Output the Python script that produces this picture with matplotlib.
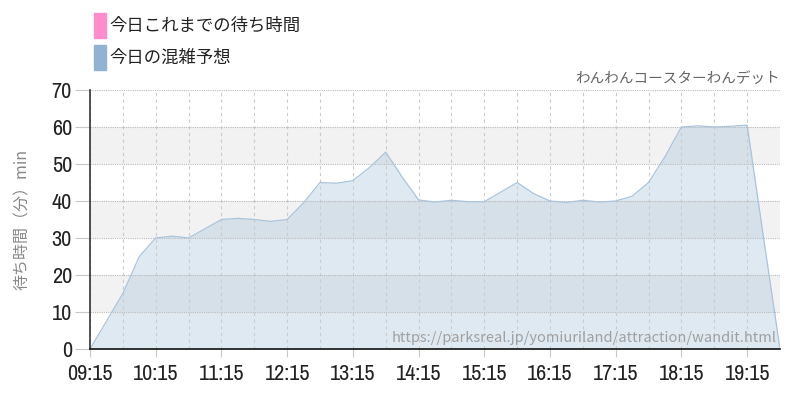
import matplotlib
matplotlib.use("Agg")
import matplotlib.pyplot as plt
from matplotlib.patches import Rectangle
from matplotlib import font_manager

plt.rcParams['font.family'] = ['Noto Sans CJK JP', 'DejaVu Sans']

# forecast, every 15 minutes from 09:15
times = ["09:15", "09:30", "09:45", "10:00", "10:15", "10:30", "10:45", "11:00",
         "11:15", "11:30", "11:45", "12:00", "12:15", "12:30", "12:45", "13:00",
         "13:15", "13:30", "13:45", "14:00", "14:15", "14:30", "14:45", "15:00",
         "15:15", "15:30", "15:45", "16:00", "16:15", "16:30", "16:45", "17:00",
         "17:15", "17:30", "17:45", "18:00", "18:15", "18:30", "18:45", "19:00",
         "19:15", "19:30", "19:45"]
forecast = [0, 7.5, 15, 25, 30, 30.5, 30, 32.5,
            35, 35.3, 35, 34.5, 35, 39.5, 45, 44.8,
            45.5, 49, 53.2, 46.5, 40.3, 39.7, 40.2, 39.8,
            39.8, 42.4, 45, 42, 40, 39.6, 40.2, 39.7,
            40, 41.3, 45, 52, 60, 60.3, 60, 60.2,
            60.5, 30, 0]
tick_labels = ["09:15", "10:15", "11:15", "12:15", "13:15", "14:15",
               "15:15", "16:15", "17:15", "18:15", "19:15"]

legend_labels = ["今日これまでの待ち時間", "今日の混雑予想"]
legend_colors = ["#ff8ccb", "#8fb3d1"]

ride_name = "わんわんコースターわんデット"
source_url = "https://parksreal.jp/yomiuriland/attraction/wandit.html"


def to_min(t):
    h, m = t.split(":")
    return int(h) * 60 + int(m) - (9 * 60 + 15)


x = [to_min(t) for t in times]
ticks = [to_min(t) for t in tick_labels]

# narrow regular face for the numbers
narrow = None
for f in font_manager.fontManager.ttflist:
    if f.style != "normal" or f.weight not in (400, "normal", "regular"):
        continue
    if "Narrow" in f.name:
        narrow = f.fname
        break
    if f.name == "DejaVu Sans" and f.stretch == "condensed":
        narrow = f.fname
num_font = font_manager.FontProperties(fname=narrow, size=16) if narrow else \
    font_manager.FontProperties(family="DejaVu Sans", size=15)

fig = plt.figure(figsize=(8, 4), dpi=100)
ax = fig.add_axes([0.1125, 0.1275, 0.8625, 0.6475])

# alternating bands
for lo in (10, 30, 50):
    ax.axhspan(lo, lo + 10, color="#f2f2f2", zorder=0, lw=0)

ax.fill_between(x, forecast, color="#8fb3d1", alpha=0.28, lw=0, zorder=2)
ax.plot(x, forecast, color="#a9c4dd", lw=0.9, zorder=3)

ax.set_xlim(0, x[-1])
ax.set_ylim(0, 70)
ax.set_yticks(range(0, 71, 10))
ax.set_xticks(ticks)
ax.set_xticklabels(tick_labels)
ax.set_xticks(range(30, x[-1], 60), minor=True)

for lab in ax.get_xticklabels() + ax.get_yticklabels():
    lab.set_fontproperties(num_font)
    lab.set_color("#222222")

ax.tick_params(axis='y', length=11, color="#c8c8c8", pad=2)
ax.tick_params(axis='x', which='major', length=6, color="#c8c8c8", pad=5)
ax.tick_params(axis='x', which='minor', length=0)

ax.grid(axis='y', color="#bbbbbb", linestyle=(0, (1, 1)), lw=0.8, zorder=1)
ax.grid(axis='x', which='both', color="#cccccc", linestyle=(0, (3, 3)),
        lw=0.8, zorder=1)
ax.set_axisbelow(False)

for s in ("top", "right"):
    ax.spines[s].set_visible(False)
for s in ("left", "bottom"):
    ax.spines[s].set_linewidth(1.2)
    ax.spines[s].set_zorder(5)
ax.spines["left"].set_color("#333333")
ax.spines["bottom"].set_color("#111111")

ax.set_ylabel("待ち時間（分）min", color="#888888", fontsize=11.5)
ax.yaxis.set_label_coords(-0.085, 0.5)

# legend boxes
for i, (lab, col) in enumerate(zip(legend_labels, legend_colors)):
    yb = 0.905 - i * 0.08
    fig.patches.append(Rectangle((0.118, yb), 0.014, 0.063, color=col,
                                 transform=fig.transFigure))
    fig.text(0.137, yb + 0.03, lab, fontsize=12.5, color="#222222",
             va="center", ha="left")

fig.text(0.975, 0.785, ride_name, fontsize=10.5, color="#666666",
         ha="right", va="bottom")
ax.text(0.995, 0.015, source_url, transform=ax.transAxes, fontsize=10.5,
        color="#a0a0a0", ha="right", va="bottom", zorder=4)

fig.savefig("out.png", dpi=100)
